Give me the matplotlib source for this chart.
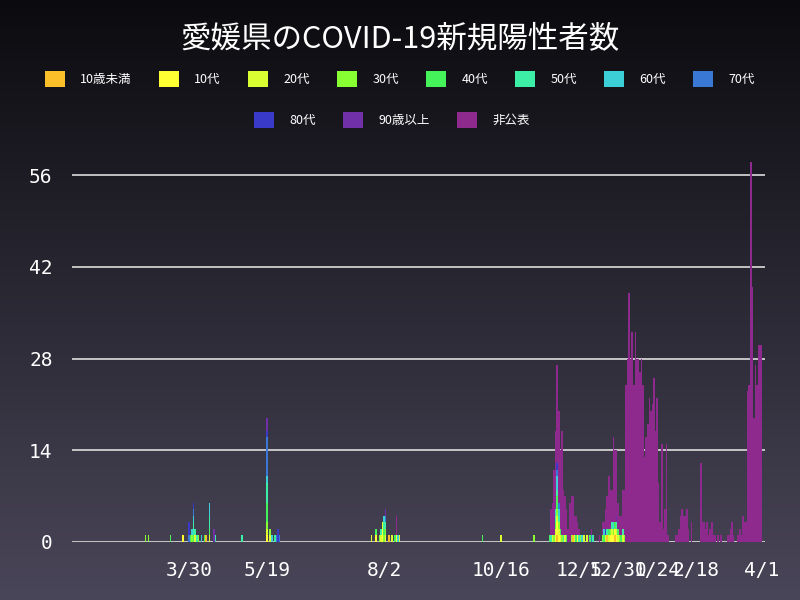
import matplotlib
matplotlib.use("Agg")
import matplotlib.pyplot as plt
import numpy as np
import pandas as pd
from matplotlib.patches import Patch
from matplotlib.colors import LinearSegmentedColormap

plt.rcParams['font.family'] = ['Noto Sans CJK JP', 'DejaVu Sans']

categories = ['10歳未満', '10代', '20代', '30代', '40代', '50代', '60代', '70代', '80代', '90歳以上', '非公表']
colors = ['#fbbf2a', '#ffff33', '#d9ff33', '#88ff33', '#44f25a', '#3deea6', '#3ccfd8', '#3a78d6', '#3a3ac8', '#7030a8', '#8e2a8e']

# each entry = one case on that date (2020 unless noted)
u10 = ['04-10', '08-05', '11-21', '12-01', '12-23', '12-28']
t10 = ['03-26', '05-19', '07-28', '08-01', '08-01', '08-10', '11-20', '11-21', '11-21', '11-22', '12-04', '12-25', '12-26', '12-27', '12-28', '12-29']
t20 = ['04-03', '04-12', '05-19', '05-21', '07-25', '07-31', '08-01', '08-03', '08-07', '08-12', '10-16', '11-18', '11-20', '11-21', '11-22', '11-23', '11-26', '12-02', '12-08', '12-10', '12-22', '12-24', '12-26', '12-29', '12-30', '2021-01-02']
t30 = ['03-02', '03-04', '04-01', '04-05', '05-19', '05-21', '07-30', '08-02', '08-03', '11-06', '11-19', '11-21', '11-22', '11-24', '11-30', '12-06', '12-20', '12-25', '12-27', '12-31', '2021-01-03']
t40 = ['03-18', '03-31', '04-02', '04-09', '04-12', '05-19', '05-19', '05-19', '07-28', '08-02', '08-09', '10-04', '11-16', '11-20', '11-21', '11-21', '11-23', '11-27', '12-03', '12-12', '12-21', '12-24', '12-28', '12-30', '2021-01-01']
t50 = ['04-02', '04-02', '04-03', '04-04', '04-12', '04-12', '04-16', '05-03', '05-19', '05-19', '05-19', '05-24', '07-31', '08-02', '08-03', '11-17', '11-20', '11-21', '11-22', '11-25', '12-05', '12-14', '12-23', '12-26', '12-29', '2021-01-02']
t60 = ['04-01', '04-02', '04-07', '04-12', '04-12', '05-19', '05-22', '08-02', '08-11', '11-20', '11-21', '11-21', '11-22', '12-07', '12-21', '12-27']
t70 = ['03-30', '04-02', '05-19', '05-19', '05-19', '05-19', '05-19', '05-19', '05-25', '05-27', '08-03', '11-21', '11-22', '12-13']
t80 = ['03-30', '03-30', '04-02', '05-19', '05-26', '05-26', '11-21', '12-22']
t90 = ['04-15', '04-15', '05-19', '05-19', '08-03', '12-29']
npub_early = ['08-10', '08-10', '08-10']

# 非公表 daily counts
npub_a_start = '2020-11-17'
npub_a = [4, 5, 10, 12, 15, 14, 12, 16, 7, 6, 4, 2, 6, 6, 6, 3, 3, 2, 1, 0, 0, 0, 0, 0, 1, 0, 1, 0, 0, 0, 0, 1, 0, 2, 1,
          3, 5, 8, 6, 5, 13, 11, 10, 4, 3, 3, 6, 7, 24, 28, 38, 28, 32, 24, 32, 28, 28, 26, 28, 24, 13, 16, 18, 22, 20, 21,
          25, 17, 22, 9, 3, 15, 2, 5, 15, 1]
npub_b_end = '2021-04-01'
npub_b = [0, 1, 1, 2, 4, 5, 4, 4, 5, 2, 0, 3, 0, 0, 0, 0, 0, 12, 3, 3, 2, 3, 1, 2, 3, 1, 1, 0, 1, 0, 1, 0, 0, 0, 1, 1, 2,
          3, 1, 0, 0, 1, 2, 1, 4, 3, 3, 23, 24, 58, 39, 19, 27, 24, 30, 30, 30]

tick_labels = ['3/30', '5/19', '8/2', '10/16', '12/5', '12/30', '1/24', '2/18', '4/1']
tick_dates = ['2020-03-30', '2020-05-19', '2020-08-02', '2020-10-16', '2020-12-05', '2020-12-30', '2021-01-24', '2021-02-18', '2021-04-01']

def to_dt(s):
    return pd.Timestamp(s if s.startswith('2021') else '2020-' + s)

days = pd.date_range('2020-01-15', '2021-04-03')
table = pd.DataFrame(0, index=days, columns=categories)
for cat, lst in zip(categories[:10], [u10, t10, t20, t30, t40, t50, t60, t70, t80, t90]):
    for s in lst:
        table.loc[to_dt(s), cat] += 1
for s in npub_early:
    table.loc[to_dt(s), '非公表'] += 1
for d, v in zip(pd.date_range(npub_a_start, periods=len(npub_a)), npub_a):
    table.loc[d, '非公表'] += v
for d, v in zip(pd.date_range(end=npub_b_end, periods=len(npub_b)), npub_b):
    table.loc[d, '非公表'] += v

fig = plt.figure(figsize=(8, 6), dpi=100)
bg = fig.add_axes([0, 0, 1, 1], zorder=-10)
grad = np.linspace(0, 1, 256).reshape(-1, 1)
cmap = LinearSegmentedColormap.from_list('bg', ['#0b0b0f', '#4a4659'])
bg.imshow(grad, aspect='auto', cmap=cmap, extent=[0, 1, 0, 1])
bg.axis('off')

ax = fig.add_axes([0.09, 0.0967, 0.866, 0.655])
ax.patch.set_alpha(0)
bottom = np.zeros(len(table))
for cat, c in zip(categories, colors):
    vals = table[cat].values
    ax.bar(table.index, vals, width=1.0, bottom=bottom, color=c, linewidth=0, zorder=3)
    bottom += vals

ax.set_xlim(pd.Timestamp('2020-01-15'), pd.Timestamp('2021-04-03'))
ax.set_ylim(0, 60)
ax.set_yticks([0, 14, 28, 42, 56])
ax.yaxis.grid(True, color='#dddddd', linewidth=1.2, zorder=1)
ax.set_xticks([pd.Timestamp(d) for d in tick_dates])
ax.set_xticklabels(tick_labels)
for sp in ax.spines.values():
    sp.set_visible(False)
ax.tick_params(colors='white', length=0, labelsize=14, pad=14)
for lab in ax.get_xticklabels() + ax.get_yticklabels():
    lab.set_family('DejaVu Sans Mono')

fig.text(0.5, 0.935, '愛媛県のCOVID-19新規陽性者数', color='white', fontsize=22, ha='center', va='center')
h = [Patch(facecolor=c, edgecolor='none') for c in colors]
fig.legend(h[:8], categories[:8], ncol=8, loc='center', bbox_to_anchor=(0.5, 0.868), frameon=False,
           labelcolor='white', fontsize=9, handlelength=1.6, handleheight=1.6, columnspacing=2.2, handletextpad=1.2)
fig.legend(h[8:], categories[8:], ncol=3, loc='center', bbox_to_anchor=(0.49, 0.8), frameon=False,
           labelcolor='white', fontsize=9, handlelength=1.6, handleheight=1.6, columnspacing=2.2, handletextpad=1.2)
fig.savefig('out.png', dpi=100)
